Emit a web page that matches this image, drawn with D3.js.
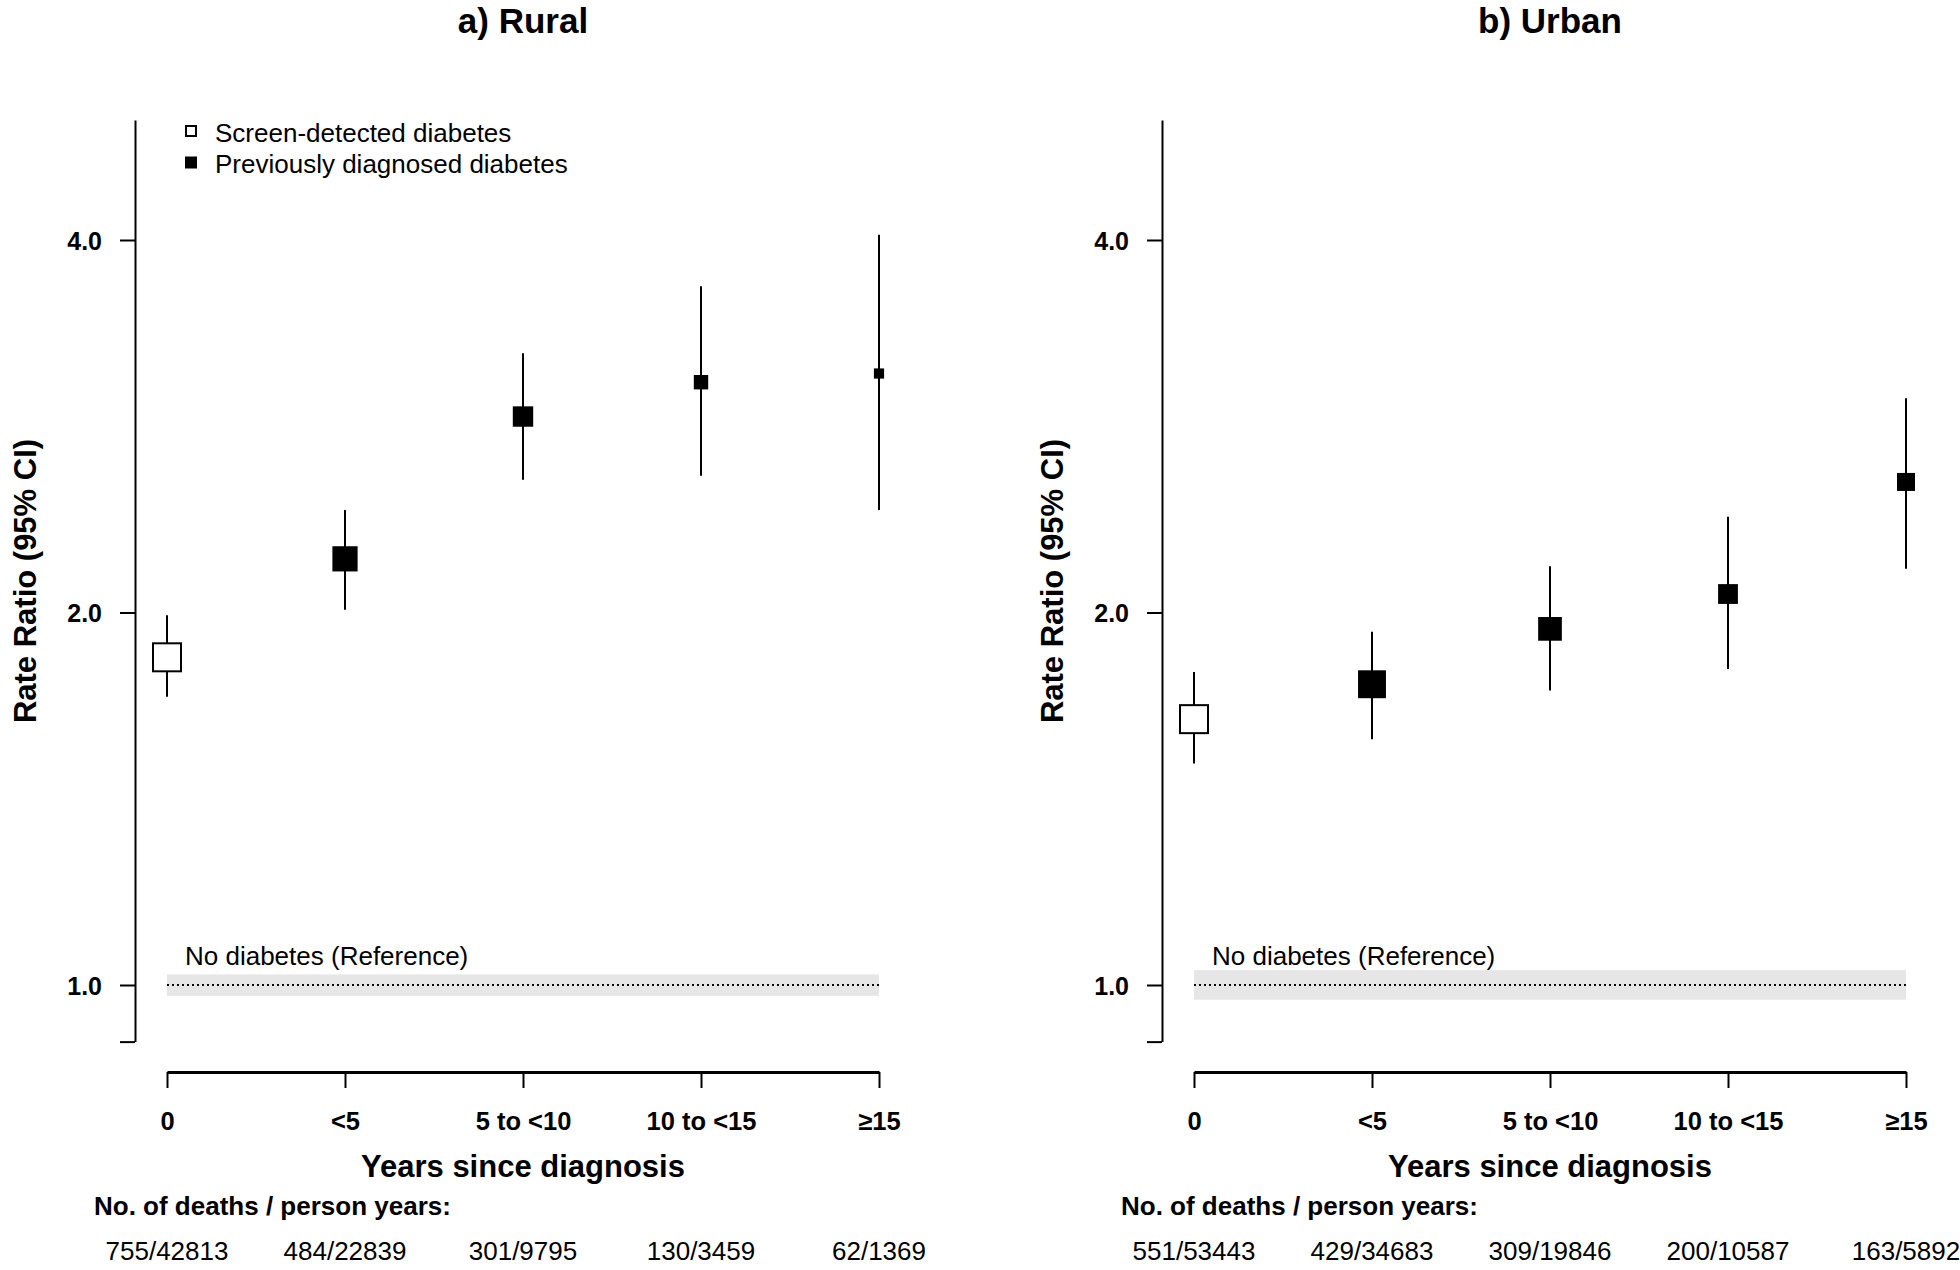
<!DOCTYPE html>
<html>
<head>
<meta charset="utf-8" />
<title>Rate ratio by years since diagnosis</title>
<script src="https://cdn.jsdelivr.net/npm/d3@7"></script>
<style>
  html, body { margin: 0; background: #fff; }
  svg text { font-family: "Liberation Sans", Arial, Helvetica, sans-serif; fill: #000; }
</style>
</head>
<body>
<div id="container"></div>
<script>
// categories on the x axis
var categories = ["0", "<5", "5 to <10", "10 to <15", "\u226515"];
// 0 = screen-detected, 1 = previously diagnosed
var groups = [0, 1, 1, 1, 1];

// rural rate ratios and 95% CI
var ruralRR = [1.84, 2.21, 2.88, 3.07, 3.12];
var ruralLo = [1.71, 2.01, 2.56, 2.58, 2.42];
var ruralHi = [1.99, 2.42, 3.24, 3.67, 4.04];
var ruralWeight = [1.00, 0.84, 0.68, 0.48, 0.34];   // relative box size
var ruralBand = [0.98, 1.02];
var ruralCounts = ["755/42813", "484/22839", "301/9795", "130/3459", "62/1369"];

// urban
var urbanRR = [1.64, 1.75, 1.94, 2.07, 2.55];
var urbanLo = [1.51, 1.58, 1.73, 1.80, 2.17];
var urbanHi = [1.79, 1.93, 2.18, 2.39, 2.98];
var urbanWeight = [1.00, 0.93, 0.79, 0.66, 0.60];
var urbanBand = [0.973, 1.028];
var urbanCounts = ["551/53443", "429/34683", "309/19846", "200/10587", "163/5892"];

var yTicks = [0.9, 1, 2, 4];
var legendLabels = ["Screen-detected diabetes", "Previously diagnosed diabetes"];

var panels = [
  {title: "a) Rural", rr: ruralRR, lo: ruralLo, hi: ruralHi, w: ruralWeight, band: ruralBand, counts: ruralCounts, dx: 0, legend: true},
  {title: "b) Urban", rr: urbanRR, lo: urbanLo, hi: urbanHi, w: urbanWeight, band: urbanBand, counts: urbanCounts, dx: 1027, legend: false}
];

var svg = d3.select("#container").append("svg")
    .attr("width", 1960)
    .attr("height", 1270);

var x = d3.scalePoint().domain(categories).range([167, 879]);
var y = d3.scaleLog().domain([1, 4]).range([985, 240]);
var yAx = y.copy().domain([0.9, 5]).range([y(0.9), y(5)]);
var size = d3.scaleLinear().domain([0, 1]).range([0, 30]);
var axisX = 135;

panels.forEach(function(p) {
  var g = svg.append("g").attr("transform", "translate(" + p.dx + ",0)");

  // title
  g.append("text")
      .attr("x", (x.range()[0] + x.range()[1]) / 2)
      .attr("y", 33)
      .attr("text-anchor", "middle")
      .style("font-size", "35px")
      .style("font-weight", "bold")
      .text(p.title);

  // reference band + dotted line
  g.append("rect")
      .attr("x", x(categories[0]))
      .attr("width", x(categories[4]) - x(categories[0]))
      .attr("y", y(p.band[1]))
      .attr("height", y(p.band[0]) - y(p.band[1]))
      .attr("fill", "#e6e6e6");
  g.append("line")
      .attr("x1", x(categories[0])).attr("x2", x(categories[4]))
      .attr("y1", y(1)).attr("y2", y(1))
      .attr("stroke", "#000")
      .attr("stroke-width", 2)
      .attr("stroke-dasharray", "2,3");
  g.append("text")
      .attr("x", x(categories[0]) + 18)
      .attr("y", 965)
      .style("font-size", "26px")
      .text("No diabetes (Reference)");

  // y axis
  var ya = g.append("g")
      .attr("transform", "translate(" + axisX + ",0)")
      .call(d3.axisLeft(yAx).tickValues(yTicks).tickSize(15).tickSizeOuter(0).tickPadding(18)
        .tickFormat(function(d) { return d < 1 ? "" : d.toFixed(1); }));
  ya.select(".domain").attr("stroke-width", 2);
  ya.selectAll(".tick line").attr("stroke-width", 2);
  ya.selectAll(".tick text")
      .attr("dy", "0.36em")
      .style("font-size", "25px")
      .style("font-weight", "bold")
      .style("font-family", "'Liberation Sans', Arial, sans-serif");

  g.append("text")
      .attr("transform", "translate(36,581) rotate(-90)")
      .attr("text-anchor", "middle")
      .style("font-size", "31px")
      .style("font-weight", "bold")
      .text("Rate Ratio (95% CI)");

  // x axis
  var xa = g.append("g")
      .attr("transform", "translate(0,1072)")
      .call(d3.axisBottom(x).tickSize(16).tickSizeOuter(0));
  xa.select(".domain").attr("stroke-width", 3);
  xa.selectAll(".tick line").attr("stroke-width", 2);
  xa.selectAll(".tick text")
      .attr("y", 58)
      .attr("dy", 0)
      .style("font-size", "25.5px")
      .style("font-weight", "bold")
      .style("font-family", "'Liberation Sans', Arial, sans-serif");

  g.append("text")
      .attr("x", (x.range()[0] + x.range()[1]) / 2)
      .attr("y", 1177)
      .attr("text-anchor", "middle")
      .style("font-size", "31px")
      .style("font-weight", "bold")
      .text("Years since diagnosis");

  g.append("text")
      .attr("x", 94)
      .attr("y", 1215)
      .style("font-size", "26px")
      .style("font-weight", "bold")
      .text("No. of deaths / person years:");

  g.selectAll(".count").data(p.counts).enter().append("text")
      .attr("class", "count")
      .attr("x", function(d, i) { return x(categories[i]); })
      .attr("y", 1260)
      .attr("text-anchor", "middle")
      .style("font-size", "26px")
      .text(function(d) { return d; });

  // CI lines
  g.selectAll(".ci").data(categories).enter().append("line")
      .attr("class", "ci")
      .attr("x1", function(d) { return x(d); })
      .attr("x2", function(d) { return x(d); })
      .attr("y1", function(d, i) { return y(p.lo[i]); })
      .attr("y2", function(d, i) { return y(p.hi[i]); })
      .attr("stroke", "#000")
      .attr("stroke-width", 2);

  // boxes
  g.selectAll(".box").data(categories).enter().append("rect")
      .attr("class", "box")
      .each(function(d, i) {
        var s = size(p.w[i]);
        var open = groups[i] == 0;
        if (open) s -= 2;
        d3.select(this)
          .attr("x", x(d) - s / 2)
          .attr("y", y(p.rr[i]) - s / 2)
          .attr("width", s)
          .attr("height", s)
          .attr("fill", open ? "#fff" : "#000")
          .attr("stroke", open ? "#000" : "none")
          .attr("stroke-width", 2);
      });

  // legend
  if (p.legend) {
    var lg = g.append("g");
    legendLabels.forEach(function(t, i) {
      lg.append("rect")
          .attr("x", 186).attr("y", 126 + i * 31.5)
          .attr("width", 10).attr("height", 10)
          .attr("fill", i == 0 ? "#fff" : "#000")
          .attr("stroke", "#000")
          .attr("stroke-width", 2);
      lg.append("text")
          .attr("x", 215)
          .attr("y", 141.5 + i * 31.5)
          .style("font-size", "26px")
          .text(t);
    });
  }
});
</script>
</body>
</html>
